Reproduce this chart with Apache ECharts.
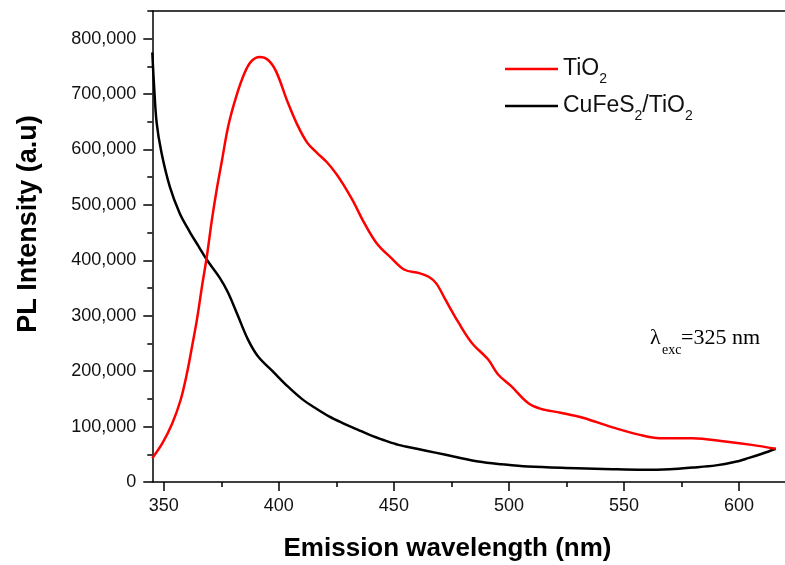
<!DOCTYPE html>
<html>
<head>
<meta charset="utf-8">
<script src="https://cdn.jsdelivr.net/npm/echarts@6/dist/echarts.min.js"></script>
<style>
  html, body { margin: 0; padding: 0; background: #fff; }
  #chart { width: 785px; height: 565px; }
</style>
</head>
<body>
<div id="chart"></div>
<script>
// PL emission spectra (excitation 325 nm)
const tio2Wavelength = [345, 349.4, 353.7, 357.3, 360.1, 362.3, 364.4, 366.6, 368.7, 370.9, 373, 375.1, 378, 381.5, 385.1, 388, 391.6, 395.2, 398.8, 403.8, 408, 412.4, 416.6, 420.9, 425, 428, 432.5, 436.8, 442.5, 448.9, 454.6, 461, 465.3, 468.5, 472.4, 478.2, 483.9, 491, 495.3, 501, 508.2, 513.9, 522.5, 532.5, 544, 556.9, 565.5, 579.9, 594, 605.5, 616];
const tio2Intensity = [43000, 70000, 106000, 148000, 197000, 245000, 293000, 353000, 407000, 473000, 528000, 576000, 642000, 696000, 738000, 759000, 767000, 762000, 741000, 686000, 645000, 612000, 594000, 577000, 556000, 537000, 505000, 470000, 431000, 404000, 383000, 377000, 370000, 358000, 329000, 287000, 251000, 221000, 194000, 173000, 143000, 132000, 125000, 115500, 100000, 85000, 79000, 79000, 73000, 67000, 60000];

const cufes2Wavelength = [345, 345.7, 346.9, 349, 352.6, 356.9, 361.2, 365, 368.7, 374.4, 378, 382.3, 386.6, 390.9, 398, 404, 410, 416, 422, 428, 434, 440, 446, 452, 460, 468, 476, 486.7, 497, 508.2, 529.6, 545, 558.3, 570, 579.9, 590, 598, 604, 610, 616];
const cufes2Intensity = [775000, 720000, 648000, 594000, 533000, 485000, 452000, 426000, 401000, 368000, 341000, 299000, 257000, 227000, 197000, 172000, 150000, 133000, 118000, 106000, 95000, 84000, 75000, 67000, 60000, 53000, 46000, 37000, 32000, 28000, 25000, 23000, 22000, 23000, 26000, 30000, 36000, 43000, 51000, 60000];

const seriesNames = ['TiO2', 'CuFeS2/TiO2'];
const seriesLabels = { 'TiO2': '{n|TiO}{s|2}', 'CuFeS2/TiO2': '{n|CuFeS}{s|2}{n|/TiO}{s|2}' };

const xMajorTicks = [350, 400, 450, 500, 550, 600];
const xMinorTicks = [375, 425, 475, 525, 575];
const yMajorTicks = [0, 100000, 200000, 300000, 400000, 500000, 600000, 700000, 800000];
const yMinorTicks = [50000, 150000, 250000, 350000, 450000, 550000, 650000, 750000, 850000];

const xTitle = 'Emission wavelength (nm)';
const yTitle = 'PL Intensity (a.u)';

const SANS = '"Liberation Sans", Arial, sans-serif';
const SERIF = '"Liberation Serif", "Times New Roman", serif';
const INK = '#111';

const pairs = (xs, ys) => xs.map((x, i) => [x, ys[i]]);

const axisLine = { show: true, onZero: false, lineStyle: { color: '#000', width: 1.5 } };

const chart = echarts.init(document.getElementById('chart'), null, { renderer: 'canvas' });
chart.setOption({
  animation: false,
  backgroundColor: '#fff',
  grid: { left: 152.3, top: 11, right: -9, bottom: 83, containLabel: false },
  xAxis: [
    {
      type: 'value', min: 345, max: 620, position: 'bottom',
      axisLine: axisLine,
      axisTick: { show: true, customValues: xMajorTicks, length: 9, lineStyle: { color: '#000', width: 1.5 } },
      axisLabel: { show: true, customValues: xMajorTicks, margin: 15, fontSize: 18, color: INK, fontFamily: SANS },
      splitLine: { show: false }
    },
    {
      type: 'value', min: 345, max: 620, position: 'bottom',
      axisLine: { show: false, onZero: false },
      axisTick: { show: true, customValues: xMinorTicks, length: 5, lineStyle: { color: '#000', width: 1.5 } },
      axisLabel: { show: false },
      splitLine: { show: false }
    },
    {
      type: 'value', min: 345, max: 620, position: 'top',
      axisLine: axisLine,
      axisTick: { show: false },
      axisLabel: { show: false },
      splitLine: { show: false }
    }
  ],
  yAxis: [
    {
      type: 'value', min: 0, max: 850000, position: 'left',
      axisLine: axisLine,
      axisTick: { show: true, customValues: yMajorTicks, length: 9, lineStyle: { color: '#000', width: 1.5 } },
      axisLabel: {
        show: true, customValues: yMajorTicks, margin: 16, fontSize: 18, color: INK, fontFamily: SANS,
        formatter: v => Number(v).toLocaleString('en-US')
      },
      splitLine: { show: false }
    },
    {
      type: 'value', min: 0, max: 850000, position: 'left',
      axisLine: { show: false, onZero: false },
      axisTick: { show: true, customValues: yMinorTicks, length: 5, lineStyle: { color: '#000', width: 1.5 } },
      axisLabel: { show: false },
      splitLine: { show: false }
    }
  ],
  legend: {
    orient: 'vertical',
    left: 505, top: 57.5, padding: 0,
    itemGap: 8, itemWidth: 53, itemHeight: 2.5,
    icon: 'rect',
    selectedMode: false,
    data: seriesNames,
    formatter: name => seriesLabels[name],
    textStyle: {
      color: INK, fontFamily: SANS, fontSize: 23,
      rich: {
        n: { fontSize: 23, lineHeight: 35, fontFamily: SANS, color: INK },
        s: { fontSize: 14, lineHeight: 14, verticalAlign: 'bottom', fontFamily: SANS, color: INK }
      }
    }
  },
  graphic: [
    { type: 'text', x: 447.5, y: 549, style: { text: xTitle, align: 'center', verticalAlign: 'middle', font: 'bold 26px ' + SANS, fill: '#000' } },
    { type: 'text', x: 29, y: 224, rotation: Math.PI / 2, style: { text: yTitle, align: 'center', verticalAlign: 'middle', font: 'bold 27px ' + SANS, fill: '#000' } },
    { type: 'text', x: 650, y: 338.6, style: { text: 'λ', align: 'left', verticalAlign: 'middle', font: '22px ' + SERIF, fill: '#000' } },
    { type: 'text', x: 662, y: 350.3, style: { text: 'exc', align: 'left', verticalAlign: 'middle', font: '14px ' + SERIF, fill: '#000' } },
    { type: 'text', x: 681, y: 338.6, style: { text: '=325 nm', align: 'left', verticalAlign: 'middle', font: '22px ' + SERIF, fill: '#000' } }
  ],
  series: [
    {
      name: seriesNames[0], type: 'line', xAxisIndex: 0, yAxisIndex: 0,
      data: pairs(tio2Wavelength, tio2Intensity),
      smooth: 0.35, showSymbol: false, symbol: 'none',
      itemStyle: { color: '#ff0000' },
      lineStyle: { color: '#ff0000', width: 2.5 },
      z: 3
    },
    {
      name: seriesNames[1], type: 'line', xAxisIndex: 0, yAxisIndex: 0,
      data: pairs(cufes2Wavelength, cufes2Intensity),
      smooth: 0.35, showSymbol: false, symbol: 'none',
      itemStyle: { color: '#000000' },
      lineStyle: { color: '#000000', width: 2.5 },
      z: 2
    }
  ]
});
</script>
</body>
</html>
